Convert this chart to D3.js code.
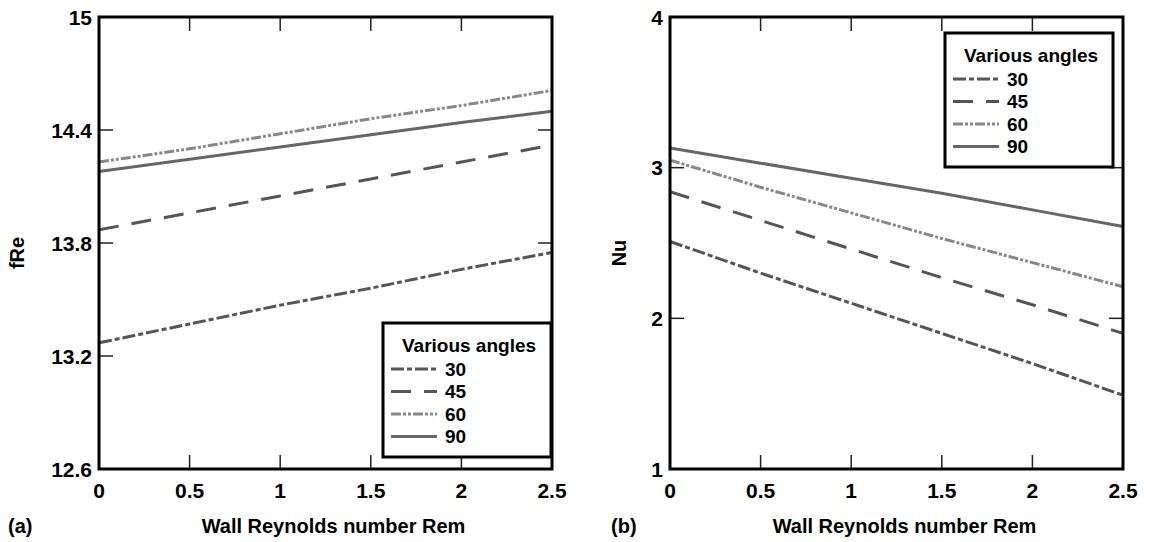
<!DOCTYPE html>
<html>
<head>
<meta charset="utf-8">
<script src="https://cdn.jsdelivr.net/npm/d3@7"></script>
<style>
  body { margin: 0; background: #fff; }
  svg { display: block; font-family: "Liberation Sans", Arial, sans-serif; font-weight: bold; }
</style>
</head>
<body>
<svg id="chart" width="1149" height="542"></svg>
<script>
// data
const rem = [0, 0.5, 1, 1.5, 2, 2.5];
const angles = ["30", "45", "60", "90"];

const fRe30 = [13.27, 13.37, 13.47, 13.56, 13.66, 13.75];
const fRe45 = [13.87, 13.96, 14.05, 14.14, 14.23, 14.32];
const fRe60 = [14.23, 14.30, 14.38, 14.46, 14.53, 14.61];
const fRe90 = [14.18, 14.245, 14.31, 14.375, 14.44, 14.50];

const nu30 = [2.51, 2.30, 2.10, 1.90, 1.70, 1.49];
const nu45 = [2.84, 2.65, 2.46, 2.27, 2.09, 1.90];
const nu60 = [3.05, 2.87, 2.70, 2.53, 2.37, 2.21];
const nu90 = [3.13, 3.03, 2.93, 2.83, 2.72, 2.61];

const xTicks = [0, 0.5, 1, 1.5, 2, 2.5];
const fReTicks = [12.6, 13.2, 13.8, 14.4, 15];
const nuTicks = [1, 2, 3, 4];

// line look per angle
const styles = {
  "30": { color: "#555", dash: "13,3,5,3" },
  "45": { color: "#555", dash: "20,13" },
  "60": { color: "#888", dash: "10,2,3,2,3,2" },
  "90": { color: "#666", dash: null }
};

const svg = d3.select("#chart");

const panels = [
  { left: 99, tag: "(a)", yLabel: "fRe", domain: [12.6, 15], ticks: fReTicks,
    series: [fRe30, fRe45, fRe60, fRe90], legend: { x: 284, y: 306 } },
  { left: 670, tag: "(b)", yLabel: "Nu", domain: [1, 4], ticks: nuTicks,
    series: [nu30, nu45, nu60, nu90], legend: { x: 275, y: 16 } }
];

const plotTop = 17, plotW = 453, plotH = 452, tickLen = 14;

panels.forEach(p => {
  const g = svg.append("g").attr("transform", `translate(${p.left},${plotTop})`);
  const x = d3.scaleLinear().domain([0, 2.5]).range([0, plotW]);
  const y = d3.scaleLinear().domain(p.domain).range([plotH, 0]);

  // inward ticks on all four sides
  const inner = xTicks.slice(1, -1);
  inner.forEach(t => {
    g.append("line").attr("x1", x(t)).attr("x2", x(t)).attr("y1", plotH).attr("y2", plotH - tickLen)
      .attr("stroke", "#222").attr("stroke-width", 1.5);
    g.append("line").attr("x1", x(t)).attr("x2", x(t)).attr("y1", 0).attr("y2", tickLen)
      .attr("stroke", "#222").attr("stroke-width", 1.5);
  });
  p.ticks.slice(1, -1).forEach(t => {
    g.append("line").attr("x1", 0).attr("x2", tickLen).attr("y1", y(t)).attr("y2", y(t))
      .attr("stroke", "#222").attr("stroke-width", 1.5);
    g.append("line").attr("x1", plotW).attr("x2", plotW - tickLen).attr("y1", y(t)).attr("y2", y(t))
      .attr("stroke", "#222").attr("stroke-width", 1.5);
  });

  // tick labels
  g.selectAll(".xl").data(xTicks).join("text")
    .attr("x", d => x(d)).attr("y", plotH + 29)
    .attr("text-anchor", "middle").attr("font-size", 21)
    .text(d => d);
  g.selectAll(".yl").data(p.ticks).join("text")
    .attr("x", -7).attr("y", d => y(d)).attr("dy", "0.36em")
    .attr("text-anchor", "end").attr("font-size", 21)
    .text(d => d);

  // series
  const line = d3.line().x((d, i) => x(rem[i])).y(d => y(d));
  p.series.forEach((s, k) => {
    const st = styles[angles[k]];
    g.append("path").attr("d", line(s))
      .attr("fill", "none").attr("stroke", st.color).attr("stroke-width", 3)
      .attr("stroke-dasharray", st.dash);
  });

  // frame
  g.append("rect").attr("width", plotW).attr("height", plotH)
    .attr("fill", "none").attr("stroke", "#000").attr("stroke-width", 3);

  // axis titles
  g.append("text").attr("x", plotW / 2 + 8).attr("y", plotH + 64)
    .attr("text-anchor", "middle").attr("font-size", 20)
    .text("Wall Reynolds number Rem");
  g.append("text").attr("transform", `translate(${p.left === 99 ? -75 : -44},${plotH / 2 + 10}) rotate(-90)`)
    .attr("text-anchor", "middle").attr("font-size", 20)
    .text(p.yLabel);
  g.append("text").attr("x", p.left === 99 ? -91 : -59).attr("y", plotH + 64)
    .attr("font-size", 20).text(p.tag);

  // legend
  const lg = g.append("g").attr("transform", `translate(${p.legend.x},${p.legend.y})`);
  lg.append("rect").attr("width", 168).attr("height", 134)
    .attr("fill", "#fff").attr("stroke", "#000").attr("stroke-width", 3);
  lg.append("text").attr("x", 86).attr("y", 29).attr("text-anchor", "middle")
    .attr("font-size", 19).text("Various angles");
  angles.forEach((a, i) => {
    const st = styles[a];
    const yy = 46 + i * 22.5;
    lg.append("line").attr("x1", 8).attr("x2", 54).attr("y1", yy).attr("y2", yy)
      .attr("stroke", st.color).attr("stroke-width", 3).attr("stroke-dasharray", st.dash);
    lg.append("text").attr("x", 62).attr("y", yy).attr("dy", "0.36em")
      .attr("font-size", 19).text(a);
  });
});
</script>
</body>
</html>
